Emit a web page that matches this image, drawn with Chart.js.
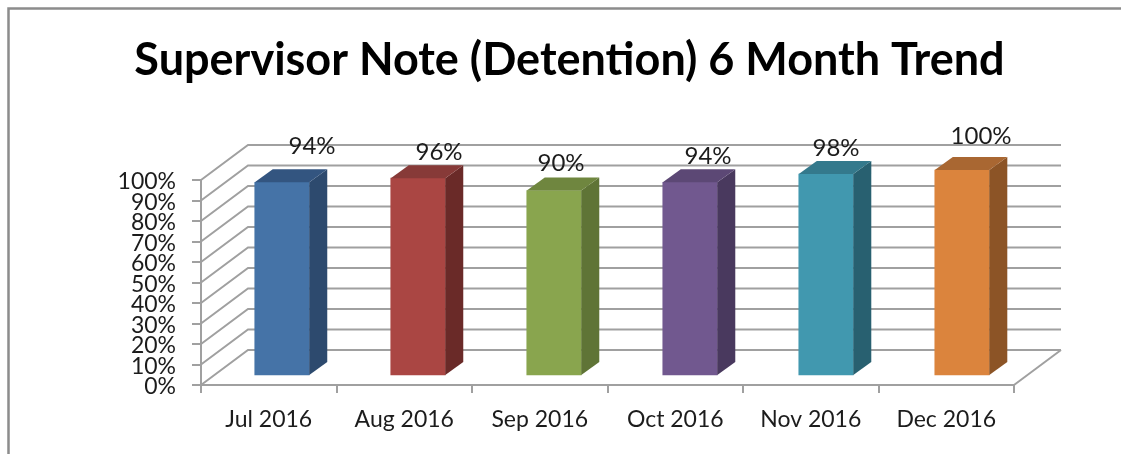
<!DOCTYPE html>
<html><head><meta charset="utf-8">
<style>html,body{margin:0;padding:0;background:#fff}#w{position:relative;width:1121px;height:454px}</style>
<script src="https://cdn.jsdelivr.net/npm/chart.js@4"></script></head>
<body><div id="w"><canvas id="c" width="1121" height="454"></canvas></div>
<script>
const categories = ["Jul 2016","Aug 2016","Sep 2016","Oct 2016","Nov 2016","Dec 2016"];
const values = [94,96,90,94,98,100];
const frontColors = ["#4573a7","#aa4643","#89a54e","#71588f","#4198af","#db843d"];
const sideColors = ["#2d4a6e","#6a2a28","#5f7436","#49395e","#286070","#8c5426"];
const topColors = ["#335580","#873a38","#6f863f","#5c4875","#34798c","#a96732"];
const labelShiftX = [30,21,7,18,10,19];
const labelShiftY = [-36,-26,-27,-26,-26,-34];
const GREY = "#a0a0a0";
const WALL = {dx:47, dy:-35};
const DEPTH = {dx:18, dy:-13};

const wallsPlugin = {
  id:"walls",
  beforeDatasetsDraw(chart){
    const {ctx, scales:{y}, chartArea:a} = chart;
    ctx.save();
    ctx.strokeStyle = GREY; ctx.lineWidth = 2;
    y.ticks.forEach(t=>{
      const py = y.getPixelForValue(t.value);
      ctx.beginPath();
      ctx.moveTo(a.left,py);
      ctx.lineTo(a.left+WALL.dx,py+WALL.dy);
      ctx.lineTo(a.right+WALL.dx,py+WALL.dy);
      ctx.stroke();
    });
    const by = y.getPixelForValue(0);
    ctx.beginPath();
    ctx.moveTo(a.right,by);
    ctx.lineTo(a.right+WALL.dx,by+WALL.dy);
    ctx.stroke();
    ctx.restore();
  }
};
const barsPlugin = {
  id:"bars3d",
  afterDatasetsDraw(chart){
    const {ctx} = chart;
    const meta = chart.getDatasetMeta(0);
    ctx.save();
    meta.data.forEach((b,i)=>{
      const L=b.x-b.width/2, R=b.x+b.width/2, T=b.y, B=b.base;
      ctx.fillStyle = sideColors[i];
      ctx.beginPath();
      ctx.moveTo(R,T);ctx.lineTo(R+DEPTH.dx,T+DEPTH.dy);ctx.lineTo(R+DEPTH.dx,B+DEPTH.dy);ctx.lineTo(R,B);ctx.closePath();ctx.fill();
      ctx.fillStyle = topColors[i];
      ctx.beginPath();
      ctx.moveTo(L,T);ctx.lineTo(L+DEPTH.dx,T+DEPTH.dy);ctx.lineTo(R+DEPTH.dx,T+DEPTH.dy);ctx.lineTo(R,T);ctx.closePath();ctx.fill();
    });
    ctx.font = "24px Lato";
    ctx.fillStyle = "#1c1c1c";
    ctx.textAlign = "center"; ctx.textBaseline = "middle";
    meta.data.forEach((b,i)=>{
      ctx.fillText(values[i]+"%", b.x+labelShiftX[i], b.y+labelShiftY[i]);
    });
    ctx.restore();
  }
};
const framePlugin = {
  id:"frame",
  beforeDraw(chart){
    const {ctx} = chart;
    ctx.save();
    ctx.strokeStyle="#8c8c8c"; ctx.lineWidth=2.5;
    ctx.beginPath();
    ctx.moveTo(8.5,454);ctx.lineTo(8.5,8.5);ctx.lineTo(1121,8.5);
    ctx.stroke();
    ctx.restore();
  }
};
new Chart(document.getElementById("c"),{
  type:"bar",
  data:{datasets:[{
    data:values.map((v,i)=>({x:i,y:v})),
    backgroundColor:frontColors,
    xAxisID:"xBars", yAxisID:"yBars",
    barThickness:54.5, clip:false, borderWidth:0
  }]},
  plugins:[framePlugin,wallsPlugin,barsPlugin],
  options:{
    responsive:false, animation:false,
    layout:{padding:{left:18,right:0,top:0,bottom:0}},
    plugins:{
      legend:{display:false}, tooltip:{enabled:false},
      title:{display:true,text:"Supervisor Note (Detention) 6 Month Trend",
        font:{family:"Lato",size:45,weight:"bold"},color:"#000",
        padding:{top:33,bottom:93}, align:"center", fullSize:true}
    },
    scales:{
      x:{type:"category",labels:categories,offset:true,position:"bottom",
        grid:{offset:true,drawOnChartArea:false,color:GREY,lineWidth:2,tickLength:8},
        border:{color:GREY,width:2},
        ticks:{font:{family:"Lato",size:23},color:"#1c1c1c",padding:13,maxRotation:0,autoSkip:false},
        afterFit(s){s.height=69;}},
      y:{type:"linear",min:0,max:100,position:"left",
        grid:{drawOnChartArea:false,color:GREY,lineWidth:2,tickLength:9},
        border:{color:GREY,width:2},
        ticks:{stepSize:10,autoSkip:false,labelOffset:2,font:{family:"Lato",size:23},color:"#1c1c1c",padding:16,callback:v=>v+"%"},
        afterFit(s){s.width=183;}},
      xBars:{type:"linear",display:false,offset:false,min:-0.5956,max:5.382},
      yBars:{type:"linear",position:"right",min:-4.878,max:95.122,
        grid:{display:false},border:{display:false},ticks:{display:false},
        afterFit(s){s.width=107;}}
    }
  }
});
</script></body></html>
